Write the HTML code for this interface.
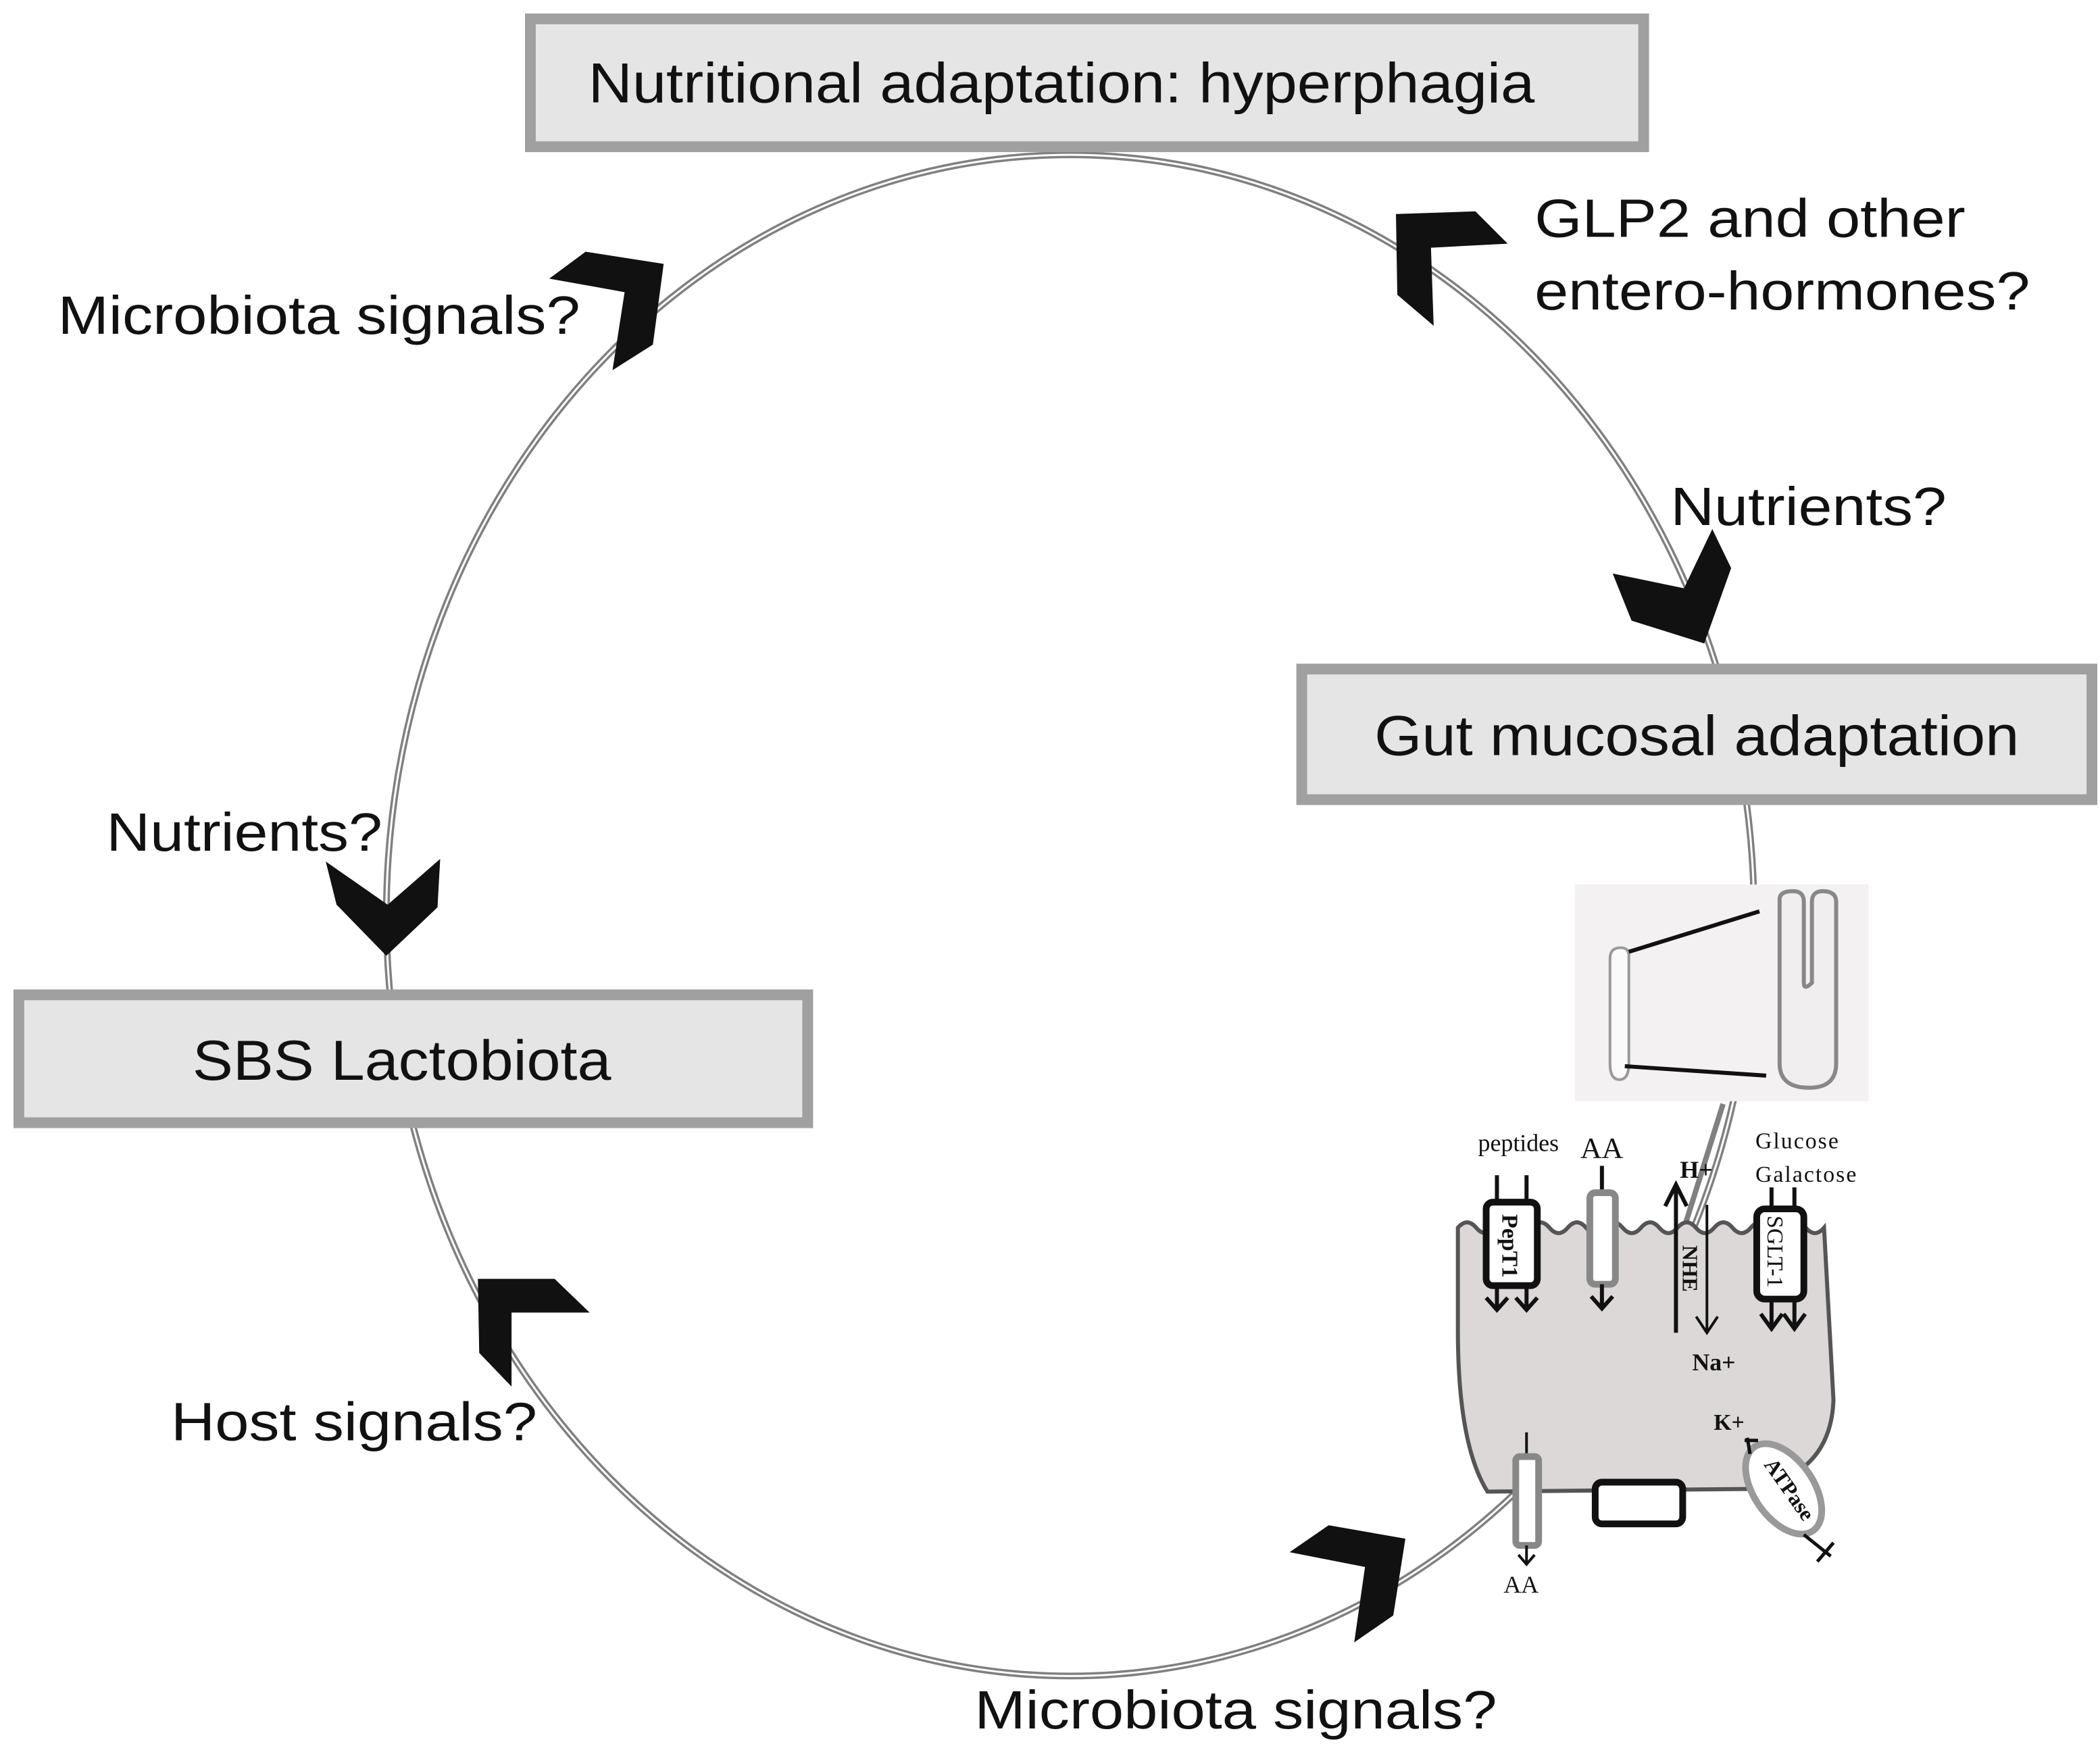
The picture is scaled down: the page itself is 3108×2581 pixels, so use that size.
<!DOCTYPE html>
<html><head><meta charset="utf-8"><style>
html,body{margin:0;padding:0;background:#fff;}
svg{display:block;}
.s{font-family:"Liberation Sans",sans-serif;fill:#111;}
.r{font-family:"Liberation Serif",serif;fill:#111;}
</style></head><body>
<svg width="3108" height="2581" viewBox="0 0 1560 1295.5" preserveAspectRatio="none" xmlns="http://www.w3.org/2000/svg">
<rect width="1560" height="1296" fill="#fff"/>
<!-- cycle -->
<ellipse cx="795" cy="680" rx="508" ry="565" fill="none" stroke="#808080" stroke-width="5"/>
<ellipse cx="795" cy="680" rx="508" ry="565" fill="none" stroke="#fff" stroke-width="1.5"/>
<!-- boxes -->
<rect x="394" y="14" width="827" height="95" fill="#e5e5e5" stroke="#a0a0a0" stroke-width="8"/>
<text class="s" x="437" y="76" font-size="42" textLength="703" lengthAdjust="spacingAndGlyphs">Nutritional adaptation: hyperphagia</text>
<rect x="967" y="497" width="587" height="97" fill="#e5e5e5" stroke="#a0a0a0" stroke-width="8"/>
<text class="s" x="1021" y="561" font-size="42" textLength="479" lengthAdjust="spacingAndGlyphs">Gut mucosal adaptation</text>
<rect x="14" y="739" width="586" height="95" fill="#e5e5e5" stroke="#a0a0a0" stroke-width="8"/>
<text class="s" x="143" y="802" font-size="42" textLength="311" lengthAdjust="spacingAndGlyphs">SBS Lactobiota</text>
<!-- chevrons -->
<g fill="#111">
<polygon points="408,207 435,187 493,196 485,256 455,275 464,217"/>
<polygon points="1037,159 1096,157 1120,181 1063,184 1065,242 1038,219"/>
<polygon points="1198,426 1212,461 1266,478 1286,422 1272,393 1251,437"/>
<polygon points="242,640 250,672 287,710 325,674 327,638 288,672"/>
<polygon points="355,950 412,950 438,975 380,975 380,1030 356,1005"/>
<polygon points="958,1153 987,1133 1044,1143 1035,1200 1006,1220 1014,1164"/>
</g>
<!-- labels -->
<text class="s" x="43" y="248" font-size="40" textLength="388" lengthAdjust="spacingAndGlyphs">Microbiota signals?</text>
<text class="s" x="1140" y="176" font-size="40" textLength="320" lengthAdjust="spacingAndGlyphs">GLP2 and other</text>
<text class="s" x="1140" y="230" font-size="40" textLength="368" lengthAdjust="spacingAndGlyphs">entero-hormones?</text>
<text class="s" x="1241" y="390" font-size="40" textLength="205" lengthAdjust="spacingAndGlyphs">Nutrients?</text>
<text class="s" x="79" y="632" font-size="40" textLength="205" lengthAdjust="spacingAndGlyphs">Nutrients?</text>
<text class="s" x="127" y="1070" font-size="40" textLength="272" lengthAdjust="spacingAndGlyphs">Host signals?</text>
<text class="s" x="724" y="1284" font-size="40" textLength="388" lengthAdjust="spacingAndGlyphs">Microbiota signals?</text>
<!-- villi image -->
<rect x="1170" y="657" width="218" height="161" fill="#f3f1f1"/>
<path d="M1196,712 q0,-8 8,-8 q6,0 6,6 v80 q0,12 -7,12 q-7,0 -7,-12 z" fill="#fafafa" stroke="#999" stroke-width="2"/>
<path d="M1322,668 q0,-6 10,-6 q8,0 8,8 v60 q0,6 6,0 v-60 q0,-8 8,-8 q10,0 10,8 v120 q0,18 -20,18 q-22,0 -22,-18 z" fill="#f0eeee" stroke="#888" stroke-width="3"/>
<line x1="1210" y1="707" x2="1307" y2="677" stroke="#111" stroke-width="3"/>
<line x1="1207" y1="792" x2="1312" y2="799" stroke="#111" stroke-width="3"/>
<!-- connector to cell -->
<line x1="1280" y1="820" x2="1248" y2="922" stroke="#808080" stroke-width="4"/>
<!-- cell -->
<path d="M1083,912 q6.8,-8 13.6,0 q6.8,8 13.6,0 q6.8,-8 13.6,0 q6.8,8 13.6,0 q6.8,-8 13.6,0 q6.8,8 13.6,0 q6.8,-8 13.6,0 q6.8,8 13.6,0 q6.8,-8 13.6,0 q6.8,8 13.6,0 q6.8,-8 13.6,0 q6.8,8 13.6,0 q6.8,-8 13.6,0 q6.8,8 13.6,0 q6.8,-8 13.6,0 q6.8,8 13.6,0 q6.8,-8 13.6,0 q6.8,8 13.6,0 q6.8,-8 13.6,0 q6.8,8 13.6,0 L1362,1040 q-2,55 -60,66 L1105,1108 q-22,-35 -22,-120 z" fill="#dcd8d8" stroke="#555" stroke-width="3"/>
<!-- PepT1 -->
<line x1="1112" y1="873" x2="1112" y2="893" stroke="#111" stroke-width="3"/>
<line x1="1134" y1="873" x2="1134" y2="893" stroke="#111" stroke-width="3"/>
<rect x="1104" y="893" width="38" height="62" rx="5" fill="#fff" stroke="#111" stroke-width="5"/>
<text class="r" transform="translate(1116,902) rotate(90)" font-size="17" font-weight="bold">PepT1</text>
<path d="M1112,955 v18 M1104,964 l8,9 l8,-9 M1134,955 v18 M1126,964 l8,9 l8,-9" stroke="#111" stroke-width="3" fill="none"/>
<text class="r" x="1098" y="855" font-size="18">peptides</text>
<!-- AA top -->
<text class="r" x="1174" y="860" font-size="22">AA</text>
<line x1="1190" y1="866" x2="1190" y2="886" stroke="#111" stroke-width="3"/>
<rect x="1181" y="886" width="19" height="68" rx="4" fill="#fff" stroke="#888" stroke-width="5"/>
<path d="M1190,954 v18 M1182,963 l8,9 l8,-9" stroke="#111" stroke-width="3" fill="none"/>
<!-- NHE -->
<path d="M1245,990 v-110 M1237,896 l8,-16 l8,16" stroke="#111" stroke-width="3" fill="none"/>
<path d="M1268,895 v95 M1260,978 l8,12 l8,-12" stroke="#111" stroke-width="2" fill="none"/>
<text class="r" x="1248" y="875" font-size="18" font-weight="bold">H+</text>
<text class="r" transform="translate(1250,925) rotate(90)" font-size="16" font-weight="bold">NHE</text>
<text class="r" x="1257" y="1018" font-size="18" font-weight="bold">Na+</text>
<!-- SGLT-1 -->
<text class="r" x="1304" y="853" font-size="17" letter-spacing="1">Glucose</text>
<text class="r" x="1304" y="878" font-size="17" letter-spacing="1">Galactose</text>
<line x1="1316" y1="882" x2="1316" y2="898" stroke="#111" stroke-width="3"/>
<line x1="1333" y1="882" x2="1333" y2="898" stroke="#111" stroke-width="3"/>
<rect x="1305" y="898" width="35" height="67" rx="6" fill="#fff" stroke="#111" stroke-width="5"/>
<text class="r" transform="translate(1313,903) rotate(90)" font-size="17">SGLT-1</text>
<path d="M1316,965 v22 M1308,976 l8,11 l8,-11 M1333,965 v22 M1325,976 l8,11 l8,-11" stroke="#111" stroke-width="3" fill="none"/>
<!-- basolateral -->
<line x1="1134" y1="1064" x2="1134" y2="1082" stroke="#111" stroke-width="2"/>
<rect x="1126" y="1082" width="17" height="66" rx="3" fill="#fff" stroke="#888" stroke-width="5"/>
<path d="M1134,1148 v14 M1128,1155 l6,7 l6,-7" stroke="#111" stroke-width="2" fill="none"/>
<text class="r" x="1117" y="1183" font-size="18">AA</text>
<rect x="1185" y="1101" width="65" height="31" rx="5" fill="#fff" stroke="#111" stroke-width="5"/>
<ellipse cx="1325" cy="1106" rx="22" ry="38" transform="rotate(-35 1325 1106)" fill="#fff" stroke="#999" stroke-width="5"/>
<text class="r" transform="translate(1310,1088) rotate(55)" font-size="16" font-weight="bold">ATPase</text>
<text class="r" x="1273" y="1062" font-size="17" font-weight="bold">K+</text>
<path d="M1300,1080 l-2,-12 M1296,1070 l10,0 M1340,1140 l20,16 M1350,1160 l12,-14" stroke="#111" stroke-width="2.5" fill="none"/>
</svg>
</body></html>
